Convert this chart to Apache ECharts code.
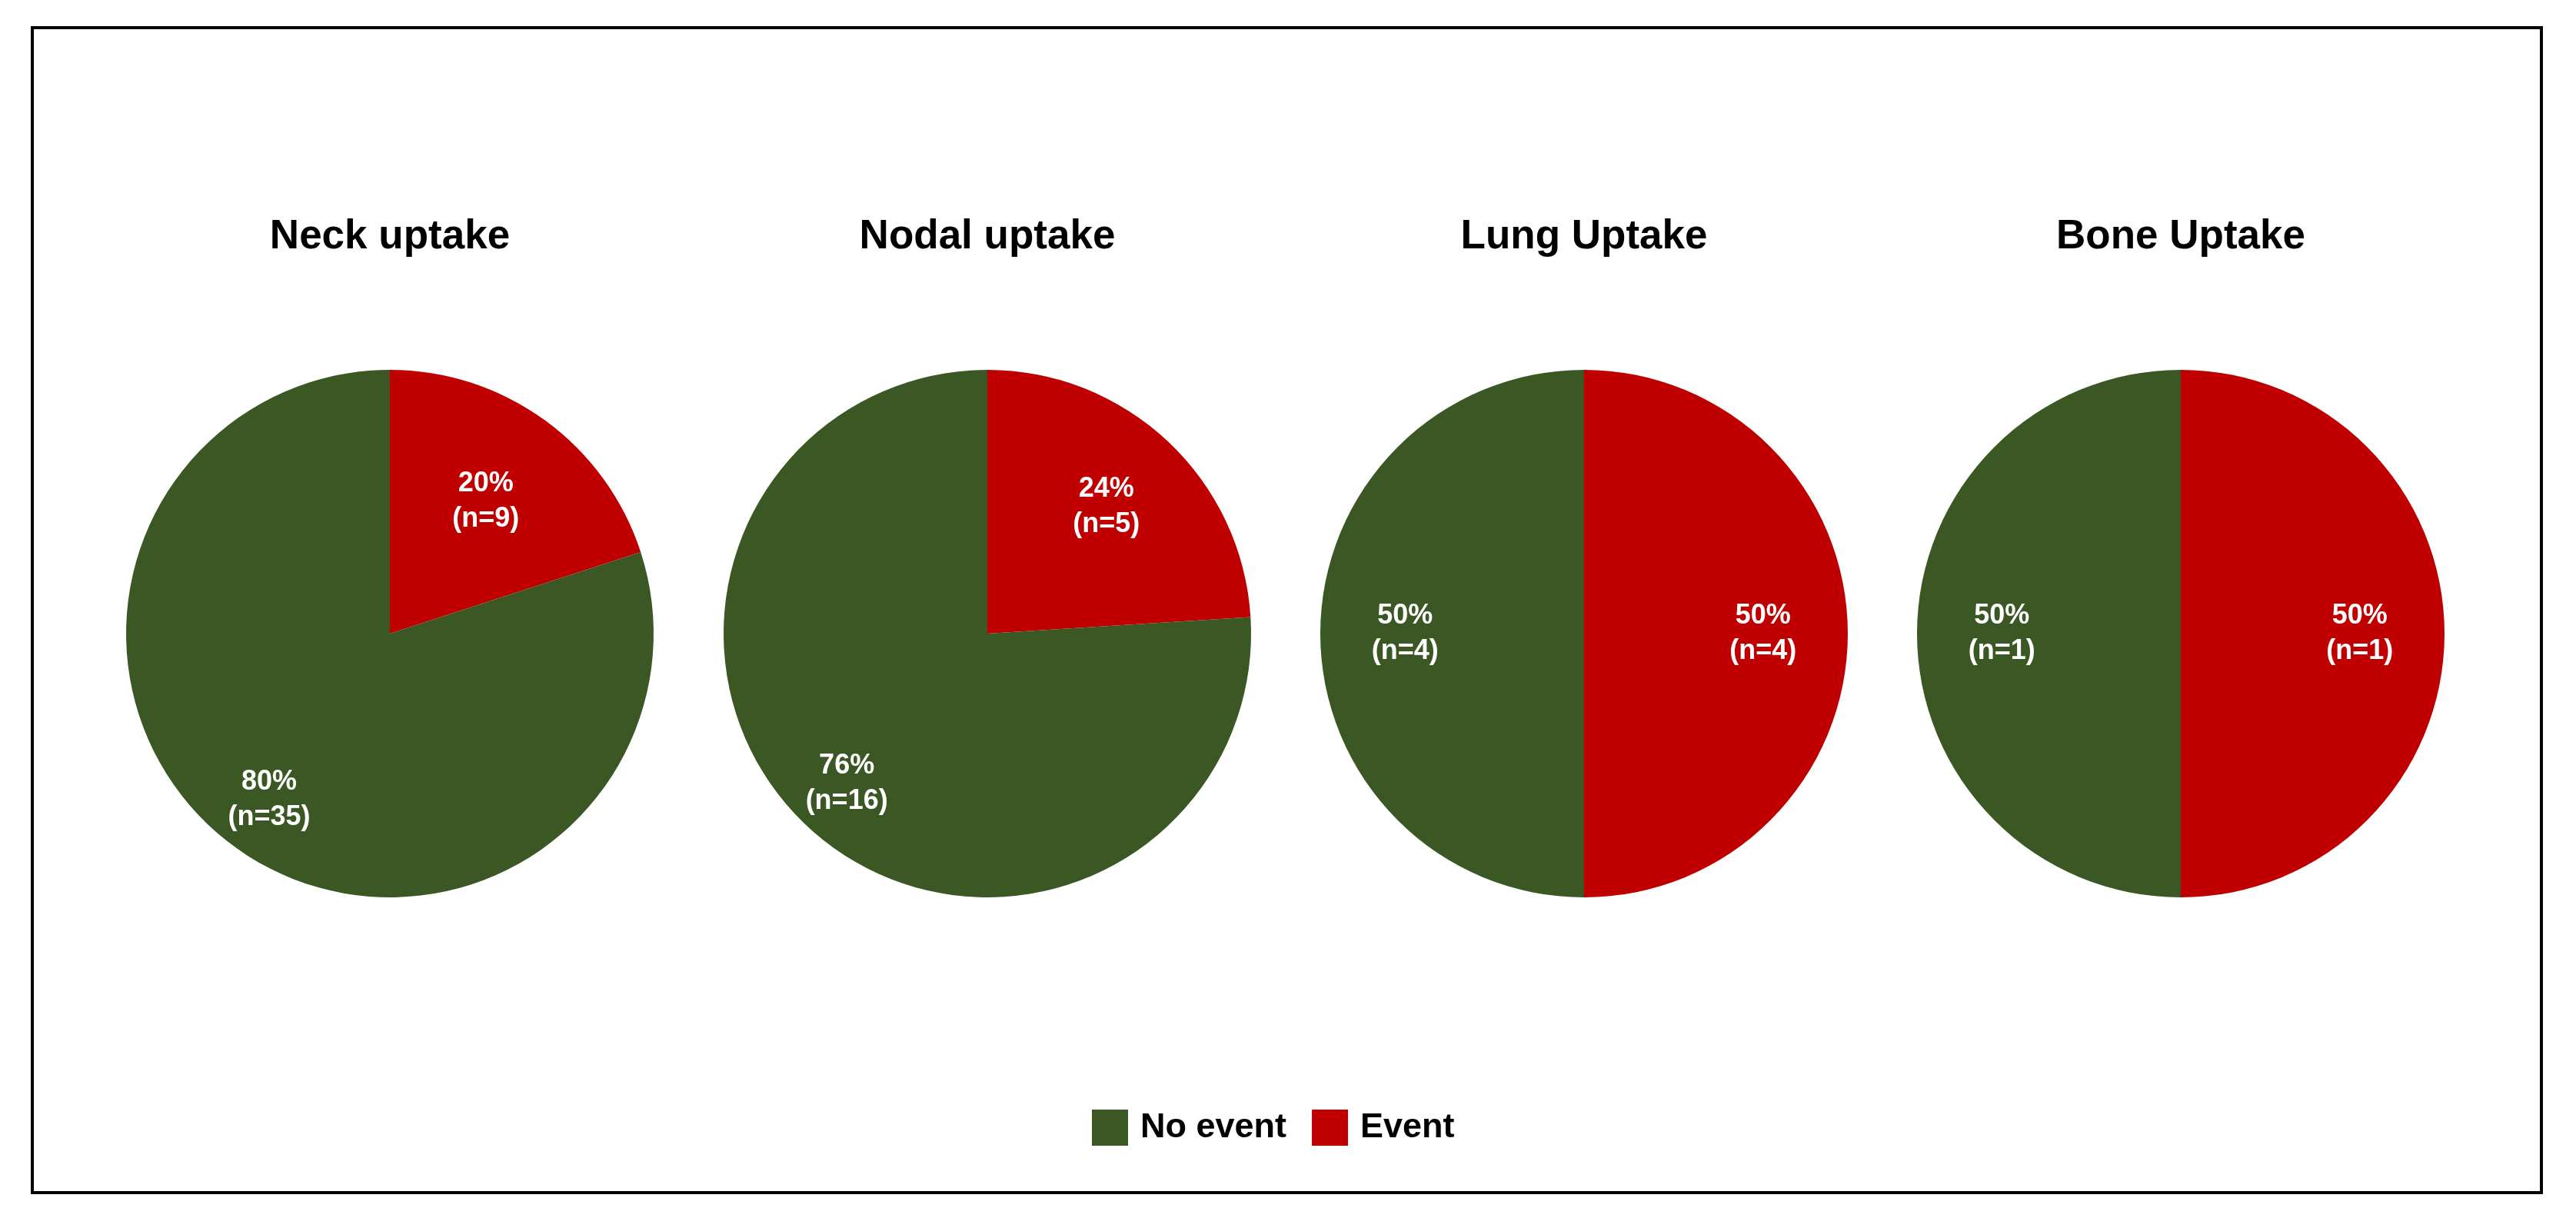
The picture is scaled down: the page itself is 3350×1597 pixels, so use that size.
<!DOCTYPE html>
<html>
<head>
<meta charset="utf-8">
<script src="https://cdn.jsdelivr.net/npm/echarts@6/dist/echarts.min.js"></script>
<style>
  html, body { margin: 0; padding: 0; background: #ffffff; }
  #chart { width: 3350px; height: 1597px; }
</style>
</head>
<body>
<div id="chart"></div>
<script>
// ---- Data ----
const titles = ['Neck uptake', 'Nodal uptake', 'Lung Uptake', 'Bone Uptake'];
const categories = ['No event', 'Event'];
const noEventCounts = [35, 16, 4, 1];
const eventCounts = [9, 5, 4, 1];
const noEventPct = [80, 76, 50, 50];
const eventPct = [20, 24, 50, 50];

// ---- Layout / style ----
const FONT = "'Liberation Sans', Arial, sans-serif";
const GREEN = '#3B5724';
const RED = '#C00000';
const centersX = [507, 1284, 2060, 2836];
const centerY = 824;
const R = 343;
// radial position of each label as a fraction of the radius
const eventLabelFrac = [0.61, 0.65, 0.67, 0.67];
const noEventLabelFrac = [0.77, 0.77, 0.67, 0.67];

const chart = echarts.init(document.getElementById('chart'), null, { renderer: 'canvas' });

const titleOpts = titles.map((t, i) => ({
  text: t,
  left: centersX[i],
  top: 278,
  textAlign: 'center',
  padding: 0,
  textStyle: { fontFamily: FONT, fontSize: 53, fontWeight: 'bold', color: '#000', lineHeight: 60 }
}));

const series = [];
// main pies (slice sizes from the shown percentages)
titles.forEach((t, i) => {
  series.push({
    type: 'pie',
    name: t,
    center: [centersX[i], centerY],
    radius: [0, R],
    startAngle: 90,
    clockwise: true,
    avoidLabelOverlap: false,
    silent: true,
    animation: false,
    label: { show: false },
    labelLine: { show: false },
    emphasis: { disabled: true },
    itemStyle: { borderWidth: 0 },
    data: [
      { name: categories[1], value: eventPct[i], itemStyle: { color: RED } },
      { name: categories[0], value: noEventPct[i], itemStyle: { color: GREEN } }
    ]
  });
});
// label overlays (transparent), one per slice, to place labels at a chosen radius
titles.forEach((t, i) => {
  [0, 1].forEach(k => {
    const f = k === 0 ? eventLabelFrac[i] : noEventLabelFrac[i];
    series.push({
      type: 'pie',
      name: t + ' labels ' + k,
      center: [centersX[i], centerY],
      radius: [(2 * f - 1) * R, R],
      startAngle: 90,
      clockwise: true,
      avoidLabelOverlap: false,
      silent: true,
      animation: false,
      labelLine: { show: false },
      emphasis: { disabled: true },
      itemStyle: { color: 'rgba(0,0,0,0)', borderWidth: 0 },
      label: {
        show: true,
        position: 'inside',
        color: '#ffffff',
        fontFamily: FONT,
        fontSize: 36,
        fontWeight: 'bold',
        lineHeight: 46,
        align: 'center',
        formatter: p => p.dataIndex === 0
          ? eventPct[i] + '%\n(n=' + eventCounts[i] + ')'
          : noEventPct[i] + '%\n(n=' + noEventCounts[i] + ')'
      },
      data: [
        { name: categories[1], value: eventPct[i], label: { show: k === 0 } },
        { name: categories[0], value: noEventPct[i], label: { show: k === 1 } }
      ]
    });
  });
});

chart.setOption({
  backgroundColor: '#ffffff',
  animation: false,
  title: titleOpts,
  legend: {
    data: categories,
    left: 1420,
    top: 1443,
    orient: 'horizontal',
    icon: 'rect',
    itemWidth: 47,
    itemHeight: 47,
    itemGap: 33,
    padding: 0,
    selectedMode: false,
    textStyle: { fontFamily: FONT, fontSize: 45, fontWeight: 'bold', color: '#000', padding: [0, 0, 0, 11] }
  },
  graphic: [{
    type: 'rect',
    shape: { x: 42, y: 36, width: 3263, height: 1515 },
    style: { fill: 'none', stroke: '#000', lineWidth: 4 },
    silent: true
  }],
  series: series
});
</script>
</body>
</html>
